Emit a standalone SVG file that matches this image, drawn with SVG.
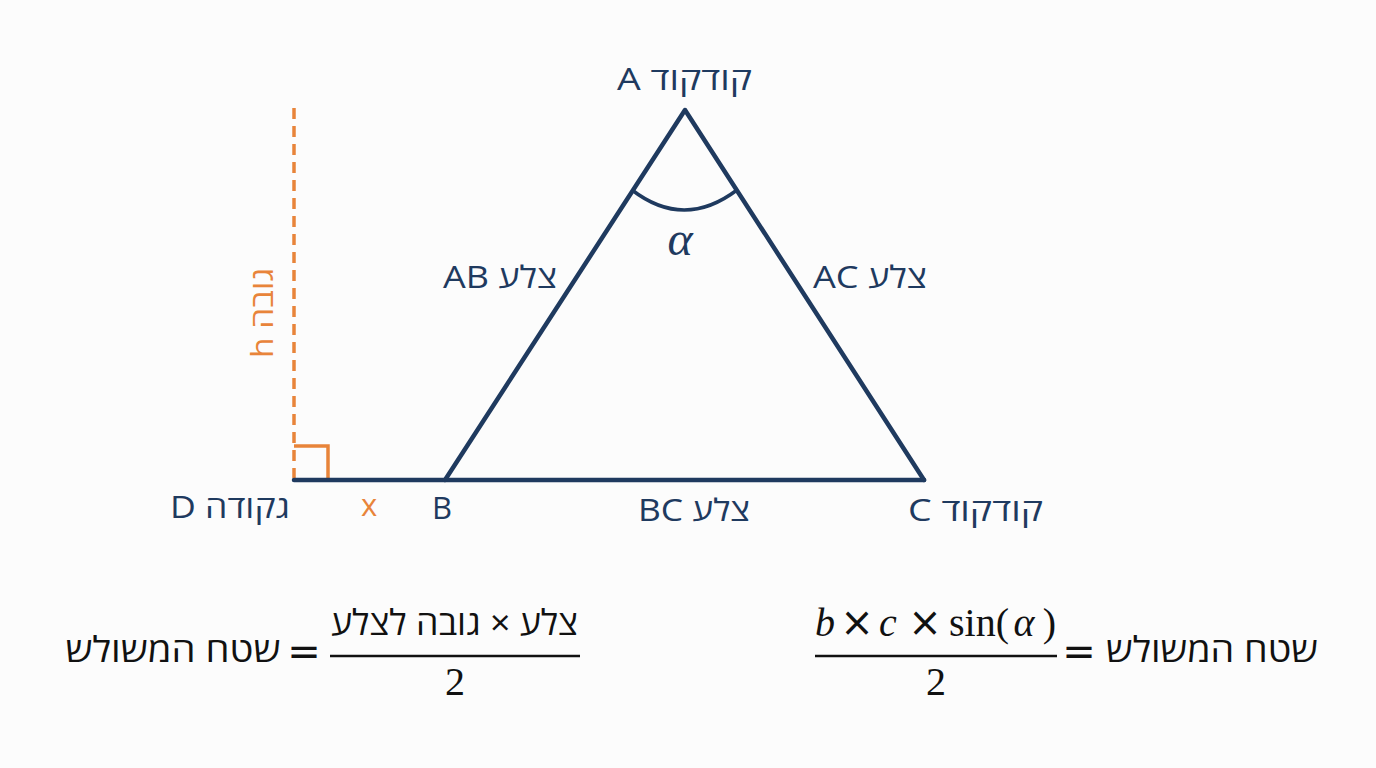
<svg xmlns="http://www.w3.org/2000/svg" width="1376" height="768" viewBox="0 0 1376 768">
<style>
.lbl{font-family:"Open Sans","Noto Sans","DejaVu Sans",sans-serif;font-size:31px;fill:#1f3a5f}
.or{fill:#e8843a}
.math{font-family:"Liberation Serif","DejaVu Serif",serif;font-size:40px;fill:#111}
.it{font-style:italic}
.op{font-family:"DejaVu Sans",sans-serif;font-size:40px;fill:#111}
.heb{font-family:"Open Sans","Noto Sans","DejaVu Sans",sans-serif;font-size:35px;fill:#111}
.edge{stroke:#1f3a5f;stroke-width:4.5;fill:none;stroke-linecap:round;stroke-linejoin:round}
.frac{stroke:#111;stroke-width:2.5}
</style>
<rect width="1376" height="768" fill="#fcfcfc"/>
<g id="connectors">
<line x1="294" y1="108" x2="294" y2="478" stroke="#e8843a" stroke-width="3.5" stroke-dasharray="11,7"/>
<path d="M294 446 H328 V480" fill="none" stroke="#e8843a" stroke-width="3.5"/>
<line class="edge" x1="294" y1="480" x2="924" y2="480"/>
<path class="edge" d="M445 480 L685 110 L924 480"/>
<path d="M632 190 Q684 230 737 190" fill="none" stroke="#1f3a5f" stroke-width="3.5"/>
</g>
<g id="vertexA"><text class="lbl" x="684.5" y="90" text-anchor="middle" textLength="135" lengthAdjust="spacingAndGlyphs">A קודקוד</text></g>
<g id="vertexB"><text class="lbl" x="442" y="519" text-anchor="middle">B</text></g>
<g id="vertexC"><text class="lbl" x="975.5" y="521" text-anchor="middle" textLength="135" lengthAdjust="spacingAndGlyphs">C קודקוד</text></g>
<g id="pointD"><text class="lbl" x="230" y="518" text-anchor="middle" textLength="120" lengthAdjust="spacingAndGlyphs">D גקודה</text></g>
<g id="sideAB"><text class="lbl" x="500" y="288" text-anchor="middle" textLength="114" lengthAdjust="spacingAndGlyphs">AB צלע</text></g>
<g id="sideAC"><text class="lbl" x="870" y="288" text-anchor="middle" textLength="114" lengthAdjust="spacingAndGlyphs">AC צלע</text></g>
<g id="sideBC"><text class="lbl" x="694" y="521" text-anchor="middle" textLength="112" lengthAdjust="spacingAndGlyphs">BC צלע</text></g>
<g id="alpha"><text x="680" y="255" text-anchor="middle" font-family="Liberation Serif,serif" font-style="italic" font-size="48" fill="#1f3a5f">α</text></g>
<g id="height"><text class="lbl or" transform="translate(273,313) rotate(-90)" text-anchor="middle" textLength="90" lengthAdjust="spacingAndGlyphs">h גובה</text></g>
<g id="segx"><text class="lbl or" x="369" y="516" text-anchor="middle">x</text></g>
<g id="formula1">
<text class="heb" x="173" y="662" text-anchor="middle" textLength="215" lengthAdjust="spacingAndGlyphs">שטח המשולש</text>
<text class="op" x="304" y="665" text-anchor="middle">=</text>
<text class="heb" x="454.5" y="635" text-anchor="middle" textLength="247" lengthAdjust="spacingAndGlyphs">צלע × גובה לצלע</text>
<line class="frac" x1="330" y1="656" x2="580" y2="656"/>
<text class="math" x="455" y="695" text-anchor="middle">2</text>
</g>
<g id="formula2">
<text class="math it" x="815" y="636">b</text>
<text class="op" x="857" y="636" text-anchor="middle" font-size="36">×</text>
<text class="math it" x="879" y="636">c</text>
<text class="op" x="925" y="636" text-anchor="middle" font-size="36">×</text>
<text class="math" x="949" y="636">sin(</text>
<text class="math it" x="1024" y="636" font-size="46" text-anchor="middle">α</text>
<text class="math" x="1056" y="636" text-anchor="end">)</text>
<line class="frac" x1="815" y1="656" x2="1057" y2="656"/>
<text class="math" x="936" y="695" text-anchor="middle">2</text>
<text class="op" x="1079" y="665" text-anchor="middle">=</text>
<text class="heb" x="1212" y="662" text-anchor="middle" textLength="212" lengthAdjust="spacingAndGlyphs">שטח המשולש</text>
</g>
</svg>
